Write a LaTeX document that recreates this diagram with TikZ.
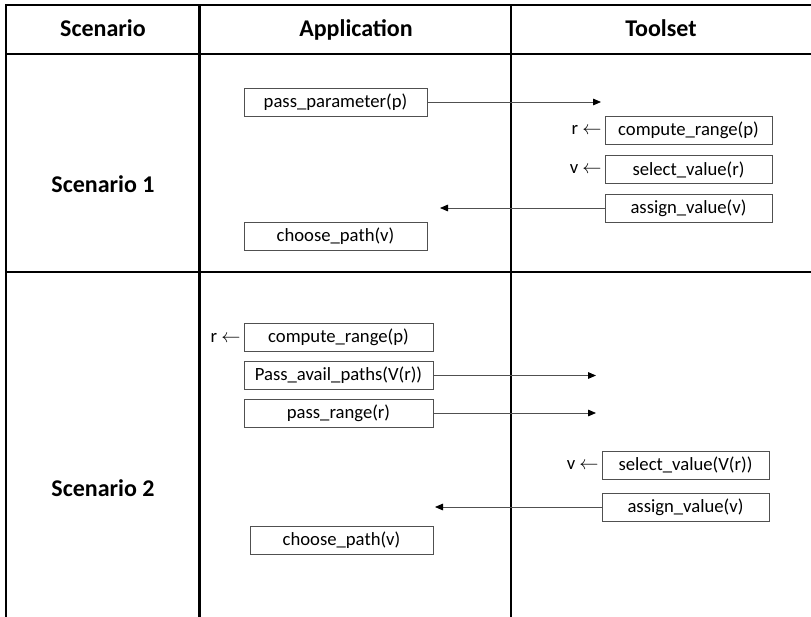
\documentclass[tikz,border=0pt]{standalone}
\usepackage{fontspec}
\setmainfont{Carlito}
\usepackage{tikz}
\usetikzlibrary{arrows.meta,positioning}
\definecolor{boxline}{RGB}{80,80,80}

\begin{document}
\begin{tikzpicture}[x=0.75pt,y=-0.75pt,
		grid/.style={black,line width=1.9pt},
		head/.style={font=\fontsize{18}{20}\selectfont\bfseries,text height=0.7em,text depth=0.22em},
		call/.style={draw=boxline,line width=0.6pt,inner sep=0pt,minimum height=21pt,
			minimum width=#1*0.75pt,font=\fontsize{14}{16}\selectfont},
		call/.default=183,
		msg/.style={boxline,line width=0.6pt,-{Triangle[length=6pt,width=5pt,color=black]}},
		ret/.style={font=\fontsize{14}{16}\selectfont,inner sep=1pt}]
	\useasboundingbox (0,0) rectangle (811,617);
	% table
	\draw[grid] (6,617) -- (6,5) -- (811,5);
	\draw[grid] (6,54) -- (811,54);
	\draw[grid] (6,272) -- (811,272);
	\draw[grid] (199.5,5) -- (199.5,617);
	\draw[grid] (511,5) -- (511,617);
	\node[head] (hscen) at (103,33) {Scenario};
	\node[head] (happ) at (356,33) {Application};
	\node[head] (htool) at (661,33) {Toolset};
	\node[head] (sc1) at (103,189) {Scenario 1};
	\node[head] (sc2) at (103,493) {Scenario 2};
	% scenario 1
	\node[call] (pp) at (335.5,102) {pass\_parameter(p)};
	\node[call=167] (cr1) at (688.5,130) {compute\_range(p)};
	\node[call=167] (sv1) at (688.5,169.5) {select\_value(r)};
	\node[call=167] (av1) at (688.5,208) {assign\_value(v)};
	\node[call] (cp1) at (335.5,236.5) {choose\_path(v)};
	\node[ret,left=1pt of cr1] (r1) {r $\leftarrow$};
	\node[ret,left=1pt of sv1] (v1) {v $\leftarrow$};
	\coordinate (pp-end) at (601,102);
	\coordinate (av1-end) at (440,208);
	\draw[msg] (pp) -- (pp-end);
	\draw[msg] (av1) -- (av1-end);
	% scenario 2
	\node[call=189] (cr2) at (338.5,337.5) {compute\_range(p)};
	\node[call=189] (pap) at (338.5,375.5) {Pass\_avail\_paths(V(r))};
	\node[call=189] (pr) at (338.5,413) {pass\_range(r)};
	\node[call=167] (sv2) at (685.5,465) {select\_value(V(r))};
	\node[call=167] (av2) at (685.5,507) {assign\_value(v)};
	\node[call] (cp2) at (341.5,540.5) {choose\_path(v)};
	\node[ret,left=1pt of cr2] (r2) {r $\leftarrow$};
	\node[ret,left=1pt of sv2] (v2) {v $\leftarrow$};
	\coordinate (pap-end) at (596,375.5);
	\coordinate (pr-end) at (596,413);
	\coordinate (av2-end) at (435,507);
	\draw[msg] (pap) -- (pap-end);
	\draw[msg] (pr) -- (pr-end);
	\draw[msg] (av2) -- (av2-end);
\end{tikzpicture}
\end{document}
